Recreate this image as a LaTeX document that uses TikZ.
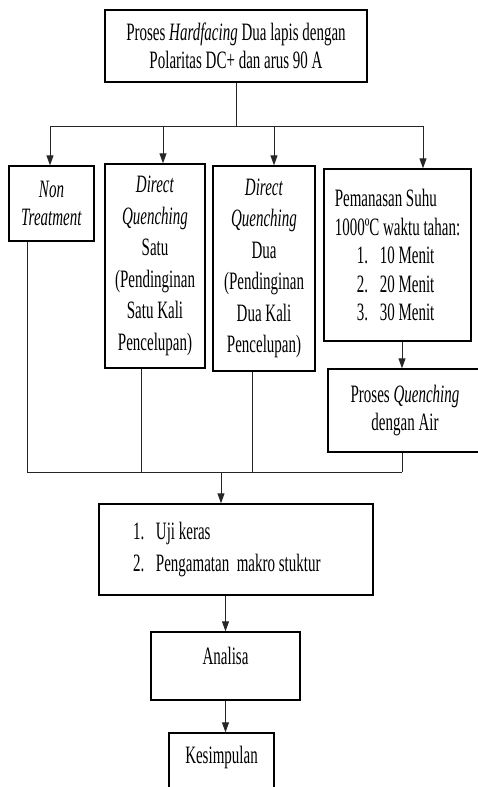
\documentclass[tikz,border=0pt]{standalone}
\usepackage{fontspec}
\setmainfont[FakeStretch=0.6]{Liberation Serif}
\usetikzlibrary{positioning, arrows.meta, calc}
\tikzset{
    box/.style={rectangle, draw=black, line width=1.4pt, align=center, inner sep=0pt, font=\fontsize{25}{28.5}\selectfont},
    tallbox/.style={box, font=\fontsize{25}{31.5}\selectfont},
    arr/.style={-{Triangle[length=10pt, width=7pt]}, line width=1pt, color=black!85},
    ln/.style={line width=1pt, color=black!85}
}
\newcommand{\itm}[2]{\makebox[23pt][l]{#1}#2}

\begin{document}
\begin{tikzpicture}[x=1pt, y=-1pt]
    \useasboundingbox (0,0) rectangle (478,787);

    \node[box, minimum width=262, minimum height=72] (proses) at (236,46) {Proses \textit{Hardfacing} Dua lapis dengan\\Polaritas DC+ dan arus 90 A};

    \node[box, minimum width=85, minimum height=75] (nontreat) at (51.5,203.5) {\textit{Non}\\\textit{Treatment}};
    \node[tallbox, minimum width=100, minimum height=204] (dqsatu) at (155,266) {\textit{Direct}\\\textit{Quenching}\\Satu\\(Pendinginan\\Satu Kali\\Pencelupan)};
    \node[tallbox, minimum width=102, minimum height=205] (dqdua) at (264,268.5) {\textit{Direct}\\\textit{Quenching}\\Dua\\(Pendinginan\\Dua Kali\\Pencelupan)};
    \node[box, align=left, minimum width=147, minimum height=172] (pemanasan) at (397.5,255) {Pemanasan Suhu\\1000ºC waktu tahan:\\\hspace*{22pt}\itm{1.}{10 Menit}\\\hspace*{22pt}\itm{2.}{20 Menit}\\\hspace*{22pt}\itm{3.}{30 Menit}};
    \node[box, minimum width=154, minimum height=83] (quench) at (405,410.5) {Proses \textit{Quenching}\\dengan Air};

    \node[tallbox, align=flush left, text width=206, minimum width=274, minimum height=91] (uji) at (236,549.5) {\itm{1.}{Uji keras}\\\itm{2.}{Pengamatan\ \ makro stuktur}};
    \node[box, minimum width=149, text height=32, text depth=36] (analisa) at (225.5,666) {Analisa};
    \node[box, minimum width=105, text height=30, text depth=37] (kesimpulan) at (221.5,766.5) {Kesimpulan};

    % percabangan atas
    \coordinate (split) at (236,126);
    \coordinate (t1) at (50,126);
    \coordinate (t2) at (163,126);
    \coordinate (t3) at (274,126);
    \coordinate (t4) at (423,126);
    \draw[ln] (proses.south) -- (split);
    \draw[ln] (t1) -- (t4);
    \draw[arr] (t1) -- (t1 |- nontreat.north);
    \draw[arr] (t2) -- (t2 |- dqsatu.north);
    \draw[arr] (t3) -- (t3 |- dqdua.north);
    \draw[arr] (t4) -- (t4 |- pemanasan.north);

    % penggabungan bawah
    \coordinate (b1) at (27,472);
    \coordinate (b2) at (141,472);
    \coordinate (b3) at (252,472);
    \coordinate (b4) at (402,472);
    \coordinate (join) at (221,472);
    \draw[arr] (b4 |- pemanasan.south) -- (b4 |- quench.north);
    \draw[ln] (b1 |- nontreat.south) -- (b1);
    \draw[ln] (b2 |- dqsatu.south) -- (b2);
    \draw[ln] (b3 |- dqdua.south) -- (b3);
    \draw[ln] (b4 |- quench.south) -- (b4);
    \draw[ln] (b1) -- (b4);
    \draw[arr] (join) -- (join |- uji.north);

    \draw[arr] (analisa.north |- uji.south) -- (analisa.north);
    \draw[arr] (analisa.south) -- (analisa.south |- kesimpulan.north);
\end{tikzpicture}
\end{document}
